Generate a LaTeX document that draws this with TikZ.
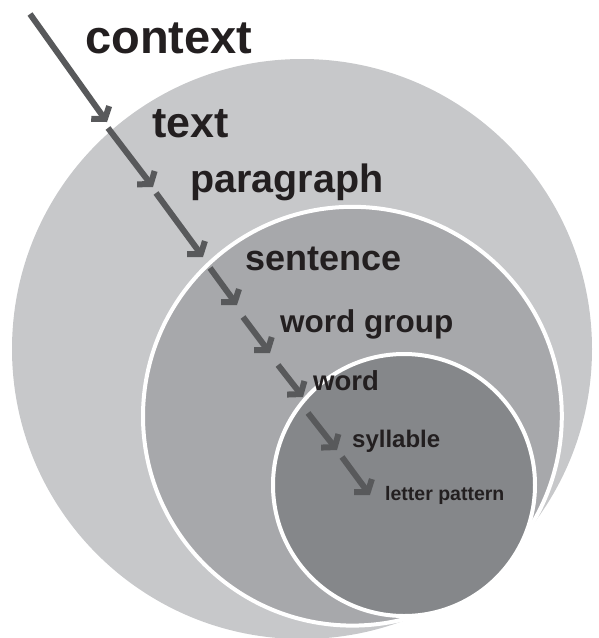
\documentclass[tikz,border=0pt]{standalone}
\usepackage{fontspec}
\setmainfont{Liberation Sans}
\usetikzlibrary{arrows.meta}

\definecolor{ringA}{HTML}{C7C8CA}
\definecolor{ringB}{HTML}{A7A8AB}
\definecolor{ringC}{HTML}{85878A}
\definecolor{arrowgray}{HTML}{58595B}
\definecolor{labelink}{HTML}{231F20}

\tikzset{
  lbl/.style={anchor=base west, inner sep=0pt, text=labelink, font=\bfseries},
  ring/.style={draw=white, line width=4pt},
  stepline/.style={draw=arrowgray, line width=6pt,
    -{Straight Barb[length=8pt,width=22pt]}},
}

\begin{document}
\begin{tikzpicture}[x=1pt,y=-1pt]
  \clip (0,0) rectangle (599,638);

  % three circles of one pencil: all pass through the same two points
  % near the lower right, so the smallest one bulges out there
  \fill[ringA] (302,349) circle[radius=290pt];
  \filldraw[ring, fill=ringB] (352.4,416.2) circle[radius=209.4pt];
  \filldraw[ring, fill=ringC] (404,485) circle[radius=131pt];

  % labels
  \node[lbl, font=\bfseries\fontsize{47}{47}\selectfont] (context) at (85,53) {context};
  \node[lbl, font=\bfseries\fontsize{43}{43}\selectfont] (text) at (152,137) {text};
  \node[lbl, font=\bfseries\fontsize{39.5}{39.5}\selectfont] (paragraph) at (190,192) {paragraph};
  \node[lbl, font=\bfseries\fontsize{36}{36}\selectfont] (sentence) at (245,270) {sentence};
  \node[lbl, font=\bfseries\fontsize{31.5}{31.5}\selectfont] (wordgroup) at (280,332) {word group};
  \node[lbl, font=\bfseries\fontsize{27.5}{27.5}\selectfont] (word) at (313,390) {word};
  \node[lbl, font=\bfseries\fontsize{24}{24}\selectfont] (syllable) at (352,447) {syllable};
  \node[lbl, font=\bfseries\fontsize{19.5}{19.5}\selectfont] (letterpattern) at (385,500) {letter pattern};

  % end points of the arrow chain
  \coordinate (p0) at (30,14);    \coordinate (q0) at (107,122);
  \coordinate (p1) at (108,128);  \coordinate (q1) at (153,187);
  \coordinate (p2) at (156,193);  \coordinate (q2) at (203,257);
  \coordinate (p3) at (210,268);  \coordinate (q3) at (237,305);
  \coordinate (p4) at (243,317);  \coordinate (q4) at (270,353);
  \coordinate (p5) at (278,365);  \coordinate (q5) at (303,397);
  \coordinate (p6) at (308,413);  \coordinate (q6) at (337,450);
  \coordinate (p7) at (342,457);  \coordinate (q7) at (370,495);

  \foreach \i in {0,...,7} {
    \draw[stepline] (p\i) -- (q\i);
  }
\end{tikzpicture}
\end{document}
